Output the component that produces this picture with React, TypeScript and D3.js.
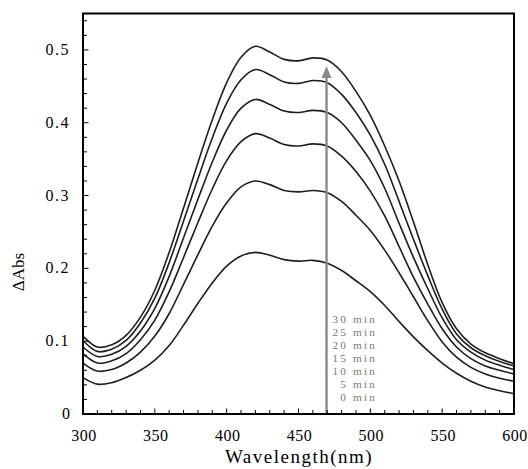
import React from 'react';
import * as d3 from 'd3';

const wavelengths = [300, 310, 320, 330, 340, 350, 360, 370, 380, 390, 400, 410, 420, 430, 440, 450, 460, 470, 480, 490, 500, 510, 520, 530, 540, 550, 560, 570, 580, 590, 600];

const spectrumTop = [0.107, 0.092, 0.095, 0.108, 0.133, 0.170, 0.222, 0.283, 0.345, 0.404, 0.455, 0.490, 0.505, 0.497, 0.487, 0.485, 0.489, 0.486, 0.470, 0.443, 0.410, 0.368, 0.320, 0.264, 0.205, 0.153, 0.117, 0.096, 0.084, 0.076, 0.069];
const spectrum2 = [0.101, 0.086, 0.089, 0.101, 0.125, 0.159, 0.208, 0.265, 0.323, 0.379, 0.427, 0.459, 0.473, 0.466, 0.456, 0.454, 0.458, 0.455, 0.439, 0.414, 0.383, 0.343, 0.292, 0.240, 0.190, 0.144, 0.110, 0.091, 0.080, 0.072, 0.066];
const spectrum3 = [0.092, 0.079, 0.082, 0.093, 0.114, 0.145, 0.189, 0.242, 0.295, 0.346, 0.390, 0.420, 0.432, 0.425, 0.416, 0.414, 0.417, 0.414, 0.400, 0.376, 0.348, 0.310, 0.262, 0.215, 0.172, 0.132, 0.102, 0.085, 0.074, 0.067, 0.061];
const spectrum4 = [0.083, 0.070, 0.073, 0.083, 0.102, 0.129, 0.168, 0.215, 0.263, 0.309, 0.348, 0.374, 0.385, 0.379, 0.370, 0.368, 0.371, 0.368, 0.354, 0.333, 0.306, 0.272, 0.230, 0.188, 0.151, 0.117, 0.092, 0.076, 0.066, 0.060, 0.055];
const spectrum5 = [0.070, 0.059, 0.061, 0.070, 0.085, 0.107, 0.138, 0.178, 0.219, 0.258, 0.290, 0.312, 0.320, 0.315, 0.307, 0.305, 0.307, 0.304, 0.292, 0.273, 0.252, 0.225, 0.194, 0.161, 0.128, 0.099, 0.078, 0.064, 0.055, 0.049, 0.045];
const spectrumBottom = [0.050, 0.041, 0.043, 0.050, 0.060, 0.074, 0.094, 0.122, 0.152, 0.180, 0.203, 0.217, 0.222, 0.218, 0.212, 0.210, 0.211, 0.207, 0.197, 0.183, 0.168, 0.149, 0.127, 0.106, 0.087, 0.070, 0.056, 0.045, 0.037, 0.032, 0.028];

const spectra = [spectrumTop, spectrum2, spectrum3, spectrum4, spectrum5, spectrumBottom];

const timeLabels = ['30 min', '25 min', '20 min', '15 min', '10 min', '5 min', '0 min'];
const xTicks = [300, 350, 400, 450, 500, 550, 600];
const yTicks = [0, 0.1, 0.2, 0.3, 0.4, 0.5];
const yTickLabels = ['0', '0.1', '0.2', '0.3', '0.4', '0.5'];
const arrowWavelength = 469.5;
const arrowTopValue = 0.478;

const W = 528;
const H = 469;
const L = 83;
const R = 514;
const T = 13.5;
const B = 414;

export default function App() {
  const x = d3.scaleLinear().domain([300, 600]).range([L, R]);
  const y = d3.scaleLinear().domain([0, 0.55]).range([B, T]);
  const line = d3
    .line<number>()
    .x((_, i) => x(wavelengths[i]))
    .y((d) => y(d))
    .curve(d3.curveCatmullRom.alpha(0.5));

  const xMinor = d3.range(300, 601, 10);
  const yMinor = d3.range(0, 0.541, 0.02);

  const ax = x(arrowWavelength);
  const aTop = y(arrowTopValue);
  const serif = '"Liberation Serif", "DejaVu Serif", serif';

  return (
    <svg width={W} height={H} style={{ position: 'absolute', left: 0, top: 0, background: '#fff' }}>
      <rect x={0} y={0} width={W} height={H} fill="#fff" />
      {spectra.map((s, i) => (
        <path key={i} d={line(s) || ''} fill="none" stroke="#1e1e1e" strokeWidth={1.6} strokeLinejoin="round" />
      ))}
      <line x1={ax} x2={ax} y1={B} y2={aTop + 10} stroke="#8a8a8a" strokeWidth={2.4} />
      <path d={`M${ax},${aTop} L${ax - 5},${aTop + 12} L${ax + 5},${aTop + 12} Z`} fill="#8a8a8a" />
      {timeLabels.map((t, i) => (
        <text key={t} x={377} y={323} textAnchor="end" fontFamily={serif} fontSize={11.2} letterSpacing={2.2} fill="#777" dy={i * 12.95}>
          {t}
        </text>
      ))}
      {yMinor.map((v, i) => {
        const major = i % 5 === 0;
        return <line key={'ym' + i} x1={L} x2={L + (major ? 5.5 : 4)} y1={y(v)} y2={y(v)} stroke="#000" strokeWidth={1} />;
      })}
      {xMinor.map((v, i) => {
        const major = i % 5 === 0;
        return <line key={'xm' + i} x1={x(v)} x2={x(v)} y1={B} y2={B - (major ? 5.5 : 4)} stroke="#000" strokeWidth={1} />;
      })}
      <rect x={L} y={T} width={R - L} height={B - T} fill="none" stroke="#000" strokeWidth={2} />
      {yTicks.map((v, i) => (
        <text key={'yl' + i} x={70} y={y(v) + 5} textAnchor="end" fontFamily={serif} fontSize={16} letterSpacing={i === 0 ? 0 : 1.5} fill="#000">
          {yTickLabels[i]}
        </text>
      ))}
      {xTicks.map((v) => (
        <text key={'xl' + v} x={x(v) + 1} y={440.5} textAnchor="middle" fontFamily={serif} fontSize={16} letterSpacing={0.5} fill="#000">
          {v}
        </text>
      ))}
      <text x={299} y={463} textAnchor="middle" fontFamily={serif} fontSize={19} letterSpacing={1.5} fill="#000">
        Wavelength(nm)
      </text>
      <text transform={`translate(24,272) rotate(-90)`} textAnchor="middle" fontFamily={serif} fontSize={17} fill="#000">
        ΔAbs
      </text>
    </svg>
  );
}
